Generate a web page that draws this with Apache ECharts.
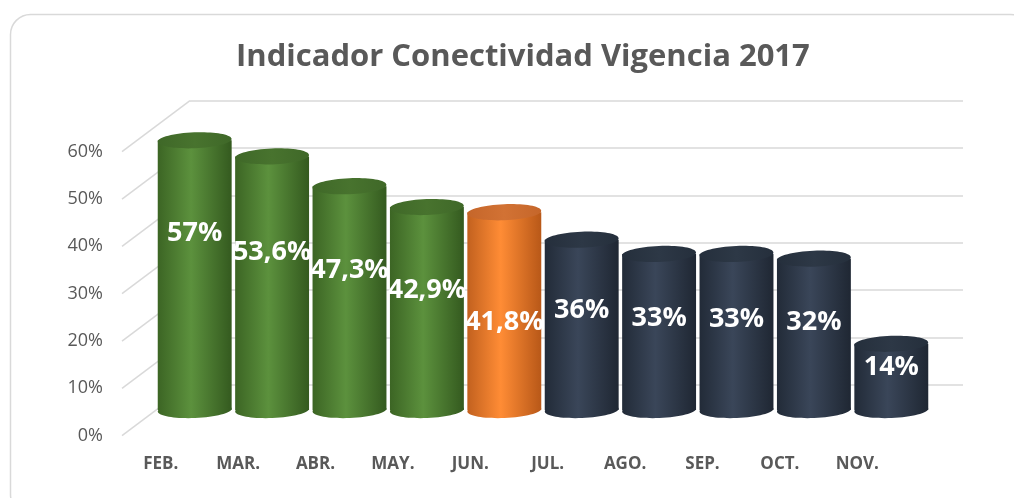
<!DOCTYPE html>
<html>
<head>
<meta charset="utf-8">
<script src="https://cdn.jsdelivr.net/npm/echarts@6/dist/echarts.min.js"></script>
<style>
html,body{margin:0;padding:0;background:#fff;}
#chart{width:1014px;height:498px;}
</style>
</head>
<body>
<div id="chart"></div>
<script>
// ---- data ----
const categories = ['FEB.', 'MAR.', 'ABR.', 'MAY.', 'JUN.', 'JUL.', 'AGO.', 'SEP.', 'OCT.', 'NOV.'];
const values = [57, 53.6, 47.3, 42.9, 41.8, 36, 33, 33, 32, 14];
const colorGroup = ['green', 'green', 'green', 'green', 'orange', 'navy', 'navy', 'navy', 'navy', 'navy'];
const yTicks = [0, 10, 20, 30, 40, 50, 60];
const titleText = 'Indicador Conectividad Vigencia 2017';
// label heights (in axis units, where Excel placed them)
const labelAt = [37.3, 33.4, 29.5, 25.3, 18.6, 21.1, 19.4, 19.2, 18.6, 9.1];

// ---- style ----
const FONT = '"Open Sans", "Liberation Sans", sans-serif';
const DEPTH_DX = 68, DEPTH_DY = 51;
const BAR_FRAC = 0.955;
const ELL_RY = 8;
const PAL = {
  green:  { edgeL: '#3c6524', mid: '#5c913d', edgeR: '#345a1f', top: '#3f6828', topHi: '#48732e' },
  orange: { edgeL: '#c2611f', mid: '#ff8c35', edgeR: '#b85818', top: '#c5662a', topHi: '#d27234' },
  navy:   { edgeL: '#222b38', mid: '#3a4659', edgeR: '#1f2733', top: '#252f3c', topHi: '#2d3846' }
};

const chart = echarts.init(document.getElementById('chart'), null, { renderer: 'canvas' });

function fmt(v) { return String(v).replace('.', ',') + '%'; }

const option = {
  animation: false,
  title: {
    text: titleText, left: 231, top: 37,
    textStyle: { fontFamily: FONT, fontSize: 31, fontWeight: 'bold', color: '#595959' }
  },
  graphic: [{
    type: 'rect', left: 8, top: 12, z: -10,
    shape: { width: 1020, height: 500, r: 20 },
    style: { fill: 'none', stroke: '#d9d9d9', lineWidth: 1.5 }
  }],
  grid: [
    { left: 122, width: 774, top: 151.5, height: 284 },   // front plane (axis labels)
    { left: 156, width: 774, top: 126.1, height: 284 },   // bar plane
    { left: 190, width: 773, top: 100.7, height: 284 }    // back wall
  ],
  xAxis: [
    { gridIndex: 0, type: 'category', data: categories,
      axisLine: { show: false }, axisTick: { show: false },
      axisLabel: { margin: 20, fontFamily: FONT, fontSize: 17, fontWeight: 'bold', color: '#595959' } },
    { gridIndex: 1, type: 'category', data: categories, show: false },
    { gridIndex: 2, type: 'category', data: categories, show: false }
  ],
  yAxis: [
    { gridIndex: 0, type: 'value', min: 0, max: 60, interval: 10,
      axisLine: { show: false }, axisTick: { show: false }, splitLine: { show: false },
      axisLabel: { margin: 19, formatter: '{value}%', fontFamily: FONT, fontSize: 18, color: '#595959' } },
    { gridIndex: 1, type: 'value', min: 0, max: 60, interval: 10, show: false },
    { gridIndex: 2, type: 'value', min: 0, max: 60, interval: 10,
      axisLine: { show: false }, axisTick: { show: false }, axisLabel: { show: false },
      splitLine: { show: true, lineStyle: { color: '#d9d9d9', width: 1.5 } } }
  ],
  series: [
    {
      // side-wall diagonals from back wall down to the front axis
      type: 'custom', xAxisIndex: 2, yAxisIndex: 2, silent: true, z: 1,
      data: yTicks.map(t => [0, t]),
      renderItem: function (params, api) {
        const y = api.coord([0, api.value(1)])[1];
        const x0 = params.coordSys.x;
        return {
          type: 'line',
          shape: { x1: x0, y1: y, x2: x0 - DEPTH_DX, y2: y + DEPTH_DY },
          style: { stroke: '#d9d9d9', lineWidth: 1.5 }
        };
      }
    },
    {
      type: 'custom', xAxisIndex: 1, yAxisIndex: 1, silent: true, z: 5,
      data: values.map((v, i) => [i, v]),
      renderItem: function (params, api) {
        const i = api.value(0), v = api.value(1);
        const top = api.coord([i, v]);
        const base = api.coord([i, 0]);
        const w = api.size([1, 0])[0] * BAR_FRAC;
        const rx = w / 2, cx = top[0];
        const p = PAL[colorGroup[i]];
        const bodyGrad = new echarts.graphic.LinearGradient(0, 0, 1, 0, [
          { offset: 0, color: p.edgeL },
          { offset: 0.45, color: p.mid },
          { offset: 1, color: p.edgeR }
        ]);
        const topGrad = new echarts.graphic.LinearGradient(0, 0, 1, 0, [
          { offset: 0, color: p.top },
          { offset: 0.5, color: p.topHi },
          { offset: 1, color: p.top }
        ]);
        const lp = api.coord([i, labelAt[i]]);
        return {
          type: 'group',
          children: [
            { type: 'ellipse', shape: { cx: cx, cy: base[1], rx: rx, ry: ELL_RY },
              rotation: 0.04, originX: cx, originY: base[1], style: { fill: bodyGrad } },
            { type: 'rect', shape: { x: cx - rx, y: top[1], width: w, height: base[1] - top[1] },
              style: { fill: bodyGrad } },
            { type: 'ellipse', shape: { cx: cx, cy: top[1], rx: rx, ry: ELL_RY },
              rotation: 0.04, originX: cx, originY: top[1], style: { fill: topGrad } },
            { type: 'text', x: lp[0], y: lp[1],
              style: { text: fmt(values[i]), fill: '#ffffff', align: 'center', verticalAlign: 'middle',
                       font: 'bold 27px ' + FONT } }
          ]
        };
      }
    }
  ]
};
chart.setOption(option);
</script>
</body>
</html>
